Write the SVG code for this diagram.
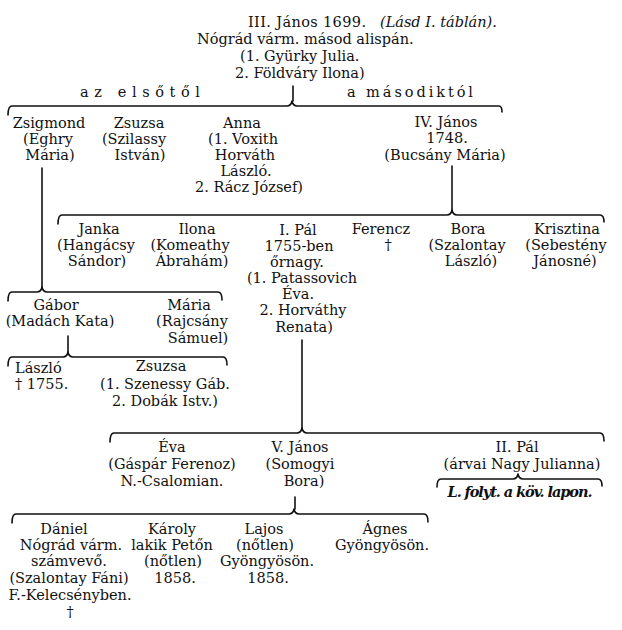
<svg xmlns="http://www.w3.org/2000/svg" width="622" height="630" viewBox="0 0 622 630">
<style>
text{font-family:"DejaVu Serif","Liberation Serif",serif;font-size:14.5px;fill:#111}
.m{text-anchor:middle}
.i{font-style:italic}
.br{fill:none;stroke:#111;stroke-width:1.6;stroke-linecap:round;stroke-linejoin:round}
</style>
<rect width="622" height="630" fill="#fff"/>
<g id="connectors" class="br">
<path d="M293,86 V101"/>
<path d="M8,115 Q8,106 12,106 H287 Q291,106 292,101 Q293,106 297,106 H499 Q502,106 502,112"/>
<path d="M42,168 V288"/>
<path d="M452,166 V211"/>
<path d="M58,224 Q58,215 62,215 H447 Q451,215 452,210 Q453,215 457,215 H600 Q604,215 604,222"/>
<path d="M8,301 Q8,292 12,292 H37 Q41,292 42,287 Q43,292 47,292 H218 Q222,292 222,300"/>
<path d="M68,336 V352"/>
<path d="M8,366 Q8,357 12,357 H63 Q67,357 68,352 Q69,357 73,357 H223 Q227,357 227,365"/>
<path d="M302,340 V428"/>
<path d="M110,442 Q110,433 114,433 H297 Q301,433 302,428 Q303,433 307,433 H600 Q604,433 604,441"/>
<path d="M437,487 Q437,479 441,479 H513 Q517,479 518,474 Q519,479 523,479 H598 Q602,479 602,486"/>
<path d="M295,497 V509"/>
<path d="M12,523 Q12,514 16,514 H289 Q293,514 294,509 Q295,514 299,514 H424 Q428,514 428,522"/>
</g>
<g id="root">
<text x="248" y="27" textLength="118">III. János 1699.</text>
<text x="380" y="27" class="i">(Lásd I. táblán).</text>
<text x="197" y="44">Nógrád várm. másod alispán.</text>
<text x="240" y="61">(1. Gyürky Julia.</text>
<text x="235" y="78">2. Földváry Ilona)</text>
</g>
<g id="labels">
<text x="80" y="97" textLength="120">az elsőtől</text>
<text x="347" y="97" textLength="126">a másodiktól</text>
</g>
<g id="zsigmond" class="m"><text x="49" y="128">Zsigmond</text><text x="48" y="144">(Eghry</text><text x="50" y="160">Mária)</text></g>
<g id="zsuzsa1" class="m"><text x="139" y="128">Zsuzsa</text><text x="134" y="144">(Szilassy</text><text x="140" y="160">István)</text></g>
<g id="anna" class="m"><text x="242" y="128">Anna</text><text x="243" y="144">(1. Voxith</text><text x="245" y="160">Horváth</text><text x="246" y="176">László.</text><text x="249" y="192">2. Rácz József)</text></g>
<g id="janos4" class="m"><text x="446" y="127">IV. János</text><text x="447" y="143">1748.</text><text x="445" y="160">(Bucsány Mária)</text></g>
<g id="janka" class="m"><text x="99" y="234">Janka</text><text x="96" y="250">(Hangácsy</text><text x="97" y="266">Sándor)</text></g>
<g id="ilona" class="m"><text x="197" y="234">Ilona</text><text x="190" y="250">(Komeathy</text><text x="192" y="266">Ábrahám)</text></g>
<g id="pal1" class="m"><text x="298" y="235">I. Pál</text><text x="299" y="251">1755-ben</text><text x="297" y="267">őrnagy.</text><text x="302" y="283">(1. Patassovich</text><text x="298" y="299">Éva.</text><text x="303" y="315">2. Horváthy</text><text x="304" y="332">Renata)</text></g>
<g id="ferencz" class="m"><text x="381" y="234">Ferencz</text><text x="388" y="250">†</text></g>
<g id="bora" class="m"><text x="468" y="234">Bora</text><text x="467" y="250">(Szalontay</text><text x="471" y="266">László)</text></g>
<g id="krisztina" class="m"><text x="567" y="234">Krisztina</text><text x="566" y="250">(Sebestény</text><text x="565" y="266">Jánosné)</text></g>
<g id="gabor" class="m"><text x="56" y="310">Gábor</text><text x="60" y="326">(Madách Kata)</text></g>
<g id="maria" class="m"><text x="189" y="310">Mária</text><text x="192" y="326">(Rajcsány</text><text x="198" y="343">Sámuel)</text></g>
<g id="laszlo"><text x="15" y="373">László</text><text x="15" y="389">† 1755.</text></g>
<g id="zsuzsa2" class="m"><text x="161" y="371">Zsuzsa</text><text x="165" y="389">(1. Szenessy Gáb.</text><text x="165" y="406">2. Dobák Istv.)</text></g>
<g id="eva" class="m"><text x="172" y="452">Éva</text><text x="172" y="469">(Gáspár Ferenoz)</text><text x="172" y="486">N.-Csalomian.</text></g>
<g id="janos5" class="m"><text x="300" y="452">V. János</text><text x="300" y="469">(Somogyi</text><text x="304" y="486">Bora)</text></g>
<g id="pal2" class="m"><text x="517" y="452">II. Pál</text><text x="522" y="469">(árvai Nagy Julianna)</text><text x="520" y="497" class="i" font-weight="bold" font-size="12" textLength="145">L. folyt. a köv. lapon.</text></g>
<g id="daniel" class="m"><text x="64" y="534">Dániel</text><text x="71" y="550">Nógrád várm.</text><text x="69" y="566">számvevő.</text><text x="69" y="583">(Szalontay Fáni)</text><text x="70" y="600">F.-Kelecsényben.</text><text x="70" y="617">†</text></g>
<g id="karoly" class="m"><text x="172" y="534">Károly</text><text x="172" y="550">lakik Petőn</text><text x="173" y="566">(nőtlen)</text><text x="175" y="583">1858.</text></g>
<g id="lajos" class="m"><text x="264" y="534">Lajos</text><text x="265" y="550">(nőtlen)</text><text x="267" y="566">Gyöngyösön.</text><text x="268" y="583">1858.</text></g>
<g id="agnes" class="m"><text x="385" y="534">Ágnes</text><text x="382" y="550">Gyöngyösön.</text></g>
</svg>
